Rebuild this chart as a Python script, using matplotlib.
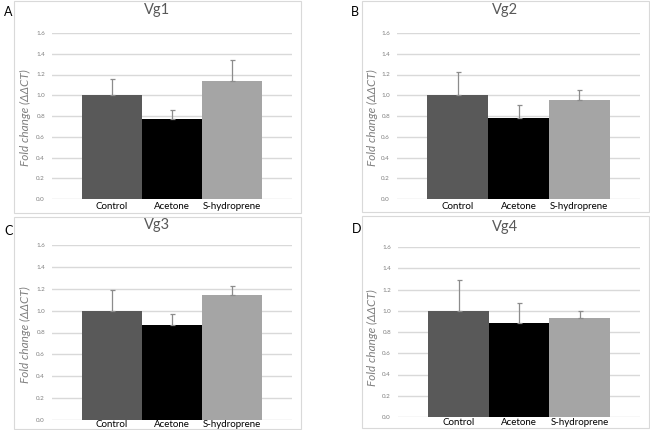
import numpy as np
import matplotlib
matplotlib.use('Agg')
import matplotlib.pyplot as plt
from matplotlib.patches import Rectangle

plt.rcParams['font.family'] = ['Lato', 'DejaVu Sans']

# data
treatments = ['Control', 'Acetone', 'S-hydroprene']
genes = ['Vg1', 'Vg2', 'Vg3', 'Vg4']
panel_letters = ['A', 'B', 'C', 'D']

vg1_mean = [1.00, 0.77, 1.14]
vg1_err = [0.155, 0.085, 0.20]
vg2_mean = [1.00, 0.785, 0.955]
vg2_err = [0.225, 0.125, 0.095]
vg3_mean = [1.00, 0.865, 1.145]
vg3_err = [0.19, 0.105, 0.08]
vg4_mean = [1.00, 0.885, 0.935]
vg4_err = [0.29, 0.19, 0.06]

means = [vg1_mean, vg2_mean, vg3_mean, vg4_mean]
errs = [vg1_err, vg2_err, vg3_err, vg4_err]

y_ticks = [0.0, 0.2, 0.4, 0.6, 0.8, 1.0, 1.2, 1.4, 1.6]

bar_colors = ['#595959', '#000000', '#a5a5a5']
grid_color = '#d9d9d9'
text_gray = '#595959'

W, H = 650, 430
fig = plt.figure(figsize=(6.5, 4.3), dpi=100)

def px_rect(x0, y0, x1, y1):
    # pixel box (top-left origin) -> figure fraction [left, bottom, width, height]
    return [x0 / W, (H - y1) / H, (x1 - x0) / W, (y1 - y0) / H]

# pixel layout: axes box, frame box, letter pos, title pos, ylabel pos
axes_boxes = [(52, 33, 292, 199), (397, 33, 640, 199),
              (52, 245, 292, 420), (398, 247, 640, 417)]
frame_boxes = [(14, 1, 301, 213), (362, 1, 649, 212),
               (14, 217, 301, 429), (362, 216, 649, 428)]
letter_pos = [(4, 12), (351, 12), (4, 231), (352, 229)]
title_pos = [(157, 10), (505, 10), (157, 225), (505, 227)]
ylabel_pos = [(25, 118), (372, 118), (25, 335), (372, 338)]
xlabel_pad = [2, 2, 0, 1]

for i in range(4):
    # light frame round each panel
    fx0, fy0, fx1, fy1 = frame_boxes[i]
    l, b, w, h = px_rect(fx0, fy0, fx1, fy1)
    fig.patches.append(Rectangle((l, b), w, h, transform=fig.transFigure,
                                 facecolor='none', edgecolor='#d9d9d9', linewidth=0.8))

    ax = fig.add_axes(px_rect(*axes_boxes[i]))
    x = np.arange(len(treatments))
    ax.bar(x, means[i], width=1.0, color=bar_colors, zorder=2)
    ax.errorbar(x, means[i], yerr=[np.zeros(3), errs[i]], fmt='none',
                ecolor='#8c8c8c', elinewidth=0.9, capsize=1.8, capthick=0.9, zorder=3)

    ax.set_xlim(-1, 3)
    ax.set_ylim(0, 1.6)
    ax.set_yticks(y_ticks)
    ax.set_yticklabels(['%.1f' % v for v in y_ticks], fontsize=4.5, color='#7f7f7f')
    ax.set_xticks(x)
    ax.set_xticklabels(treatments, fontsize=7, color='#000000')
    ax.tick_params(axis='both', length=0)
    ax.tick_params(axis='y', pad=5)
    ax.tick_params(axis='x', pad=xlabel_pad[i])
    ax.yaxis.grid(True, color=grid_color, linewidth=1.0, zorder=0)
    ax.set_axisbelow(True)
    for s in ax.spines.values():
        s.set_visible(False)

    lx, ly = letter_pos[i]
    fig.text(lx / W, 1 - ly / H, panel_letters[i], fontsize=9, ha='left', va='center')
    tx, ty = title_pos[i]
    fig.text(tx / W, 1 - ty / H, genes[i], fontsize=10.5, color=text_gray, ha='center', va='center')
    yx, yy = ylabel_pos[i]
    fig.text(yx / W, 1 - yy / H, 'Fold change (ΔΔCT)', fontsize=8.5,
             color='#7f7f7f', style='italic', rotation=90, ha='center', va='center')

fig.savefig('out.png', dpi=100)
